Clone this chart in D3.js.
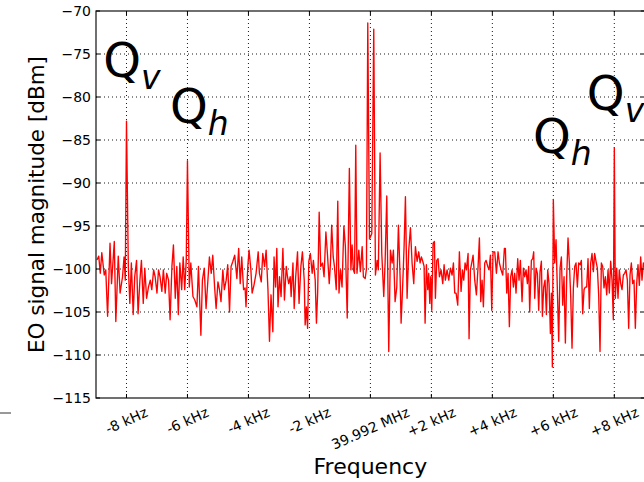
<!DOCTYPE html>
<html><head><meta charset="utf-8">
<script src="https://cdn.jsdelivr.net/npm/d3@7"></script>
<style>html,body{margin:0;padding:0;background:#fff;}svg{display:block;font-family:"DejaVu Sans",sans-serif;}</style>
</head><body><svg id="c" width="644" height="482"></svg>
<script>
const freqKHz = [
-8.97,-8.91,-8.86,-8.81,-8.73,-8.68,-8.62,-8.54,-8.49,-8.40,-8.35,-8.27,-8.21,-8.13,-8.08,-8.04,-8.00,-7.94,-7.89,-7.84,-7.78,-7.73,-7.67,-7.62,-7.56,-7.51,-7.45,-7.40,-7.34,-7.28,-7.22,-7.17,-7.11,-7.06,-7.00,-6.95,-6.90,-6.84,-6.79,-6.73,-6.68,-6.62,-6.57,-6.51,-6.46,-6.40,-6.35,-6.30,-6.25,-6.19,-6.14,-6.09,-6.04,-6.00,-5.94,-5.89,-5.82,-5.76,-5.69,-5.64,-5.56,-5.51,-5.45,-5.39,-5.33,-5.28,-5.22,-5.17,-5.11,-5.06,-5.00,-4.95,-4.90,-4.84,-4.79,-4.73,-4.68,-4.62,-4.57,-4.51,
-4.45,-4.38,-4.32,-4.27,-4.22,-4.16,-4.11,-4.08,-4.02,-3.98,-3.92,-3.88,-3.82,-3.75,-3.68,-3.64,-3.58,-3.53,-3.47,-3.42,-3.36,-3.31,-3.26,-3.20,-3.16,-3.11,-3.07,-3.03,-2.98,-2.93,-2.87,-2.82,-2.76,-2.72,-2.68,-2.63,-2.60,-2.54,-2.50,-2.45,-2.39,-2.34,-2.28,-2.23,-2.17,-2.14,-2.10,-2.06,-2.02,-1.97,-1.91,-1.87,-1.81,-1.77,-1.73,-1.68,-1.63,-1.57,-1.52,-1.46,-1.41,-1.35,-1.31,-1.27,-1.22,-1.18,-1.12,-1.07,-1.03,-0.98,-0.93,-0.87,-0.82,-0.76,-0.69,-0.64,-0.60,-0.56,-0.52,-0.48,-0.44,-0.38,-0.33,-0.27,-0.23,-0.17,
-0.13,-0.086,-0.03,0.045,0.11,0.165,0.22,0.26,0.318,0.373,0.438,0.482,0.537,0.602,0.657,0.712,0.755,0.81,0.865,0.919,0.974,1.007,1.061,1.105,1.149,1.203,1.258,1.313,1.367,1.422,1.477,1.531,1.586,1.63,1.673,1.717,1.761,1.794,1.837,1.881,1.914,1.947,1.98,2.012,2.056,2.10,2.132,2.176,2.22,2.264,2.318,2.373,2.417,2.46,2.515,2.57,2.624,2.679,2.723,2.766,2.81,2.865,2.919,2.974,3.018,3.061,3.105,3.149,3.204,3.236,3.28,3.324,3.368,3.422,3.477,3.532,3.575,3.619,3.663,3.706,3.75,3.794,3.849,3.892,3.936,3.98,4.023,4.078,4.133,4.187,4.231,4.286,4.34,4.395,
4.427,4.471,4.515,4.558,4.602,4.646,4.69,4.733,4.777,4.832,4.875,4.919,4.974,5.018,5.061,5.105,5.149,5.192,5.225,5.28,5.324,5.356,5.389,5.433,5.477,5.52,5.564,5.608,5.641,5.684,5.728,5.772,5.815,5.859,5.903,5.936,5.968,6.0,6.045,6.089,6.132,6.176,6.22,6.264,6.307,6.351,6.395,6.438,6.482,6.526,6.57,6.613,6.657,6.701,6.744,6.788,6.832,6.876,6.919,6.963,7.007,7.05,7.094,7.138,7.181,7.225,7.269,7.313,7.356,7.4,7.444,7.487,7.531,7.575,7.619,7.662,7.706,7.75,7.794,7.837,7.881,7.925,7.968,8.0,8.034,8.078,8.121,8.165,8.209,8.253,8.296,8.34,8.384,8.428,8.471,8.515,8.559,8.602,8.646,8.69,8.734,8.777,8.821,8.865,8.908,8.952,8.996
];
const levelDbm = [
-98.95,-98.5,-100.5,-98.1,-100.7,-100.1,-105.5,-97.0,-101.7,-96.8,-106.1,-98.5,-102.8,-100.9,-98.6,-101.3,-82.8,-99.7,-104.0,-99.3,-105.3,-100.9,-99.0,-105.2,-101.3,-99.0,-104.0,-99.9,-103.4,-102.1,-101.3,-102.4,-100.1,-100.9,-102.8,-100.1,-100.9,-102.6,-100.1,-102.8,-100.5,-101.3,-105.9,-99.7,-97.2,-103.4,-99.7,-105.3,-99.3,-102.4,-98.6,-102.4,-99.0,-87.4,-102.1,-99.3,-103.2,-103.6,-104.4,-99.7,-107.7,-101.3,-99.9,-104.6,-101.3,-98.6,-100.5,-98.4,-102.1,-104.6,-101.5,-102.4,-103.8,-100.1,-102.4,-101.3,-99.5,-105.0,-99.7,-99.1,
-98.4,-101.1,-97.6,-101.7,-98.6,-102.4,-102.2,-104.4,-99.7,-97.8,-100.1,-102.8,-101.9,-100.5,-98.0,-100.5,-101.5,-98.2,-99.7,-97.8,-102.4,-108.4,-103.0,-107.3,-98.6,-102.1,-97.6,-104.4,-100.9,-103.2,-97.6,-103.6,-99.7,-100.9,-101.7,-100.9,-103.2,-99.3,-104.6,-100.9,-98.0,-104.0,-99.7,-98.0,-101.3,-106.5,-104.4,-106.9,-99.1,-98.2,-100.5,-99.0,-101.3,-106.3,-102.8,-93.4,-99.7,-99.3,-100.9,-95.7,-98.2,-101.7,-99.3,-94.9,-98.6,-99.7,-102.4,-92.1,-102.8,-100.1,-102.1,-95.0,-97.4,-105.7,-88.3,-100.1,-97.2,-100.1,-100.5,-85.6,-100.5,-97.8,-100.3,-97.4,-100.9,-101.1,
-100.0,-71.4,-96.5,-95.9,-72.1,-100.7,-99.0,-100.1,-86.5,-98.2,-103.2,-99.3,-91.5,-109.6,-97.8,-99.3,-97.8,-103.8,-102.1,-94.9,-100.9,-106.3,-101.7,-97.4,-91.6,-103.4,-97.8,-95.2,-99.3,-101.7,-97.4,-99.1,-98.0,-99.3,-98.6,-99.1,-99.7,-106.3,-99.5,-102.4,-100.5,-104.0,-100.9,-104.8,-97.0,-96.8,-103.4,-99.0,-98.8,-100.9,-100.1,-101.7,-99.5,-101.3,-100.1,-101.3,-99.9,-100.7,-99.3,-102.8,-102.8,-104.2,-98.0,-102.6,-100.1,-101.3,-99.3,-100.1,-98.2,-108.1,-100.1,-99.3,-98.4,-101.3,-103.0,-99.7,-96.4,-103.8,-101.3,-104.4,-99.3,-99.0,-99.7,-100.1,-98.4,-104.8,-98.0,-98.0,-100.5,-98.0,-99.3,-100.1,-100.7,-97.6,
-97.6,-102.8,-100.5,-106.7,-100.9,-100.1,-102.1,-100.5,-102.8,-98.8,-101.3,-99.0,-103.8,-99.9,-100.9,-100.1,-101.7,-99.7,-105.0,-99.0,-98.8,-98.0,-103.4,-99.9,-100.5,-104.8,-100.3,-99.1,-105.5,-102.1,-101.3,-105.3,-100.1,-101.7,-107.5,-102.8,-111.4,-91.9,-99.3,-96.6,-102.4,-108.4,-99.9,-98.6,-104.2,-100.9,-108.6,-100.9,-96.4,-99.3,-103.2,-109.2,-102.2,-99.7,-99.3,-102.1,-99.3,-99.5,-99.0,-105.2,-102.4,-102.1,-102.1,-98.8,-104.6,-99.3,-98.2,-100.3,-98.2,-99.1,-99.9,-103.0,-109.6,-99.3,-99.7,-102.2,-100.9,-103.0,-100.1,-102.8,-99.1,-101.3,-105.9,-85.9,-103.4,-99.9,-103.4,-100.1,-101.7,-102.4,-100.7,-100.5,-100.1,-101.3,-106.9,-100.7,-99.3,-101.7,-101.3,-106.9,-101.7,-99.5,-101.9,-98.6,-101.3,-99.3,-99.9
];
const xTickValues = [-8,-6,-4,-2,0,2,4,6,8];
const xTickLabels = ["-8 kHz","-6 kHz","-4 kHz","-2 kHz","39.992 MHz","+2 kHz","+4 kHz","+6 kHz","+8 kHz"];
const yTickValues = [-115,-110,-105,-100,-95,-90,-85,-80,-75,-70];
const annoMain = ["Q","Q","Q","Q"];
const annoSub = ["v","h","h","v"];
const annoFreq = [-8.76,-6.57,5.33,7.10];
const annoDbm = [-77.7,-83.0,-86.5,-81.5];

const svg = d3.select("#c");
const L = 96, R = 644.8, T = 11, B = 398;
const x = d3.scaleLinear().domain([-9, 9]).range([L, R]);
const y = d3.scaleLinear().domain([-115, -70]).range([B, T]);

const grid = svg.append("g");
grid.selectAll("line.gx").data(xTickValues).join("line")
  .attr("x1", d => x(d)).attr("x2", d => x(d)).attr("y1", T).attr("y2", B)
  .attr("stroke", "#000").attr("stroke-width", 1).attr("stroke-dasharray", "1,3").attr("opacity", 0.9);
grid.selectAll("line.gy").data(yTickValues.filter(v => v > -115 && v < -70)).join("line")
  .attr("x1", L).attr("x2", R).attr("y1", d => y(d)).attr("y2", d => y(d))
  .attr("stroke", "#000").attr("stroke-width", 1).attr("stroke-dasharray", "1,3").attr("opacity", 0.9);

const line = d3.line().x((d, i) => x(freqKHz[i])).y(d => y(d));
svg.append("path").datum(levelDbm).attr("d", line)
  .attr("fill", "none").attr("stroke", "#ff0000").attr("stroke-width", 1.35).attr("stroke-linejoin", "round");

svg.append("rect").attr("x", L).attr("y", T).attr("width", R - L).attr("height", B - T)
  .attr("fill", "none").attr("stroke", "#111").attr("stroke-width", 1.2);

const tk = svg.append("g").attr("stroke", "#000").attr("stroke-width", 1);
xTickValues.forEach(v => {
  tk.append("line").attr("x1", x(v)).attr("x2", x(v)).attr("y1", B).attr("y2", B - 4);
  tk.append("line").attr("x1", x(v)).attr("x2", x(v)).attr("y1", T).attr("y2", T + 4);
});
yTickValues.forEach(v => {
  tk.append("line").attr("x1", L).attr("x2", L + 4).attr("y1", y(v)).attr("y2", y(v));
  tk.append("line").attr("x1", R).attr("x2", R - 4).attr("y1", y(v)).attr("y2", y(v));
});

svg.append("g").selectAll("text").data(yTickValues).join("text")
  .attr("x", L - 5).attr("y", d => y(d)).attr("dy", "0.36em")
  .attr("text-anchor", "end").attr("font-size", 14).attr("fill", "#000")
  .text(d => d3.format("d")(d).replace("-", "\u2212"));

const angDeg = 24;
const ang = angDeg * Math.PI / 180;
const xl = svg.append("g");
xTickValues.forEach((v, i) => {
  const t = xl.append("text").attr("font-size", 14).attr("fill", "#000")
    .attr("text-anchor", "middle").attr("dominant-baseline", "central").text(xTickLabels[i]);
  const w = t.node().getComputedTextLength();
  const h = w * Math.sin(ang) + 16 * Math.cos(ang);
  t.attr("transform", `translate(${x(v)},${B + 6 + h / 2}) rotate(${-angDeg})`);
});

svg.append("text").attr("x", (L + R) / 2).attr("y", 474).attr("text-anchor", "middle")
  .attr("font-size", 22).attr("fill", "#000").text("Frequency");
svg.append("text").attr("transform", `translate(43.5,${(T + B) / 2}) rotate(-90)`)
  .attr("text-anchor", "middle").attr("font-size", 21.5).attr("fill", "#000")
  .text("EO signal magnitude [dBm]");

annoMain.forEach((m, i) => {
  const t = svg.append("text").attr("x", x(annoFreq[i])).attr("y", y(annoDbm[i]))
    .attr("font-size", 48).attr("fill", "#000");
  t.append("tspan").text(m);
  t.append("tspan").attr("font-size", 33).attr("font-style", "italic").attr("dy", 12).text(annoSub[i]);
});

svg.append("line").attr("x1", 0).attr("x2", 11).attr("y1", 413).attr("y2", 413)
  .attr("stroke", "#333").attr("stroke-width", 1);
</script></body></html>
